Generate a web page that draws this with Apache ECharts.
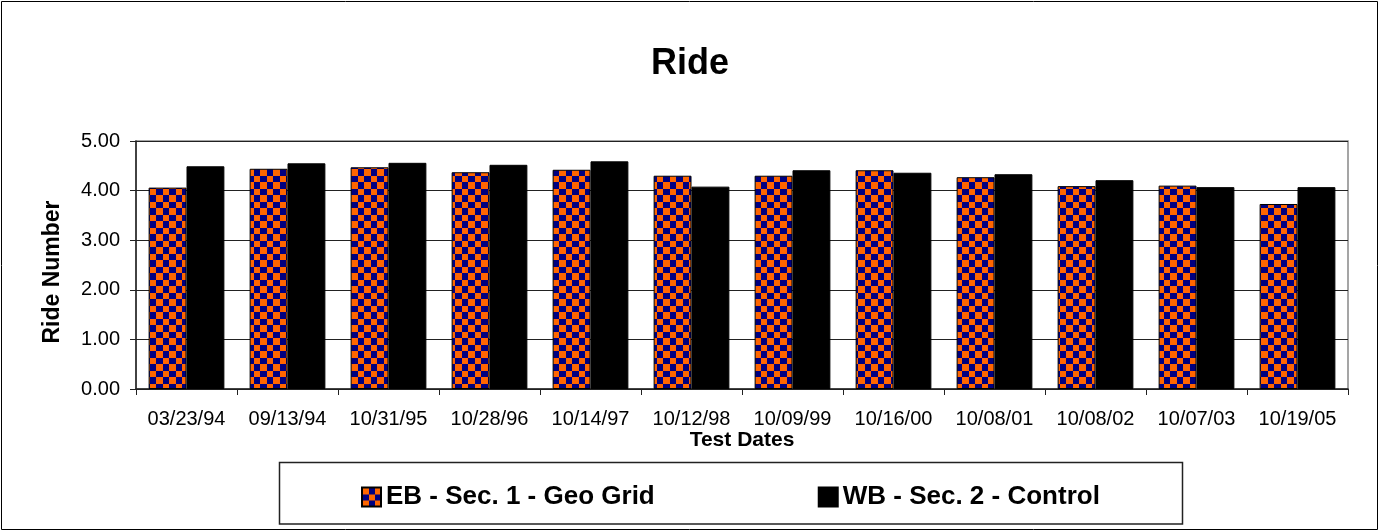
<!DOCTYPE html>
<html>
<head>
<meta charset="utf-8">
<script src="https://cdn.jsdelivr.net/npm/echarts@6/dist/echarts.min.js"></script>
<style>
html,body{margin:0;padding:0;background:#fff;}
#chart{width:1380px;height:531px;}
</style>
</head>
<body>
<div id="chart"></div>
<script>
const categories = ['03/23/94','09/13/94','10/31/95','10/28/96','10/14/97','10/12/98','10/09/99','10/16/00','10/08/01','10/08/02','10/07/03','10/19/05'];
const ebValues = [4.06,4.44,4.47,4.37,4.42,4.30,4.30,4.41,4.27,4.09,4.10,3.73];
const wbValues = [4.49,4.55,4.56,4.52,4.59,4.08,4.41,4.36,4.33,4.21,4.07,4.07];
const seriesNames = ['EB - Sec. 1 - Geo Grid','WB - Sec. 2 - Control'];
const yTicks = [0,1,2,3,4,5];

const FONT = "'Liberation Sans', Arial, sans-serif";

function checker() {
  const c = document.createElement('canvas');
  c.width = 13; c.height = 13;
  const g = c.getContext('2d');
  g.fillStyle = '#000080';
  g.fillRect(0,0,13,13);
  g.fillStyle = '#FF6600';
  g.fillRect(0,0,7,7);
  g.fillRect(7,7,6,6);
  return c;
}
const pattern = {image: checker(), repeat: 'repeat'};

const chart = echarts.init(document.getElementById('chart'), null, {renderer:'canvas'});
chart.setOption({
  backgroundColor: '#fff',
  animation: false,
  title: {
    text: 'Ride',
    left: 'center',
    top: 46,
    padding: 0,
    textStyle: {fontFamily: FONT, fontSize: 36, fontWeight: 'bold', color: '#000'}
  },
  grid: {
    left: 136, top: 141, width: 1212, height: 248,
    show: true, borderColor: '#888', borderWidth: 1.5, backgroundColor: 'transparent'
  },
  legend: {
    left: 361, top: 484, padding: 0,
    itemWidth: 19, itemHeight: 19, itemGap: 163,
    icon: 'rect',
    textStyle: {fontFamily: FONT, fontSize: 26, fontWeight: 'bold', color: '#000'},
    data: seriesNames
  },
  xAxis: {
    type: 'category',
    data: categories,
    name: 'Test Dates',
    nameLocation: 'middle',
    nameGap: 32,
    nameTextStyle: {fontFamily: FONT, fontSize: 21, fontWeight: 'bold', color: '#000'},
    axisLine: {lineStyle: {color: '#222', width: 1.5}},
    axisTick: {show: true, length: 6, lineStyle: {color: '#222'}},
    axisLabel: {fontFamily: FONT, fontSize: 20, color: '#000', margin: 20, interval: 0}
  },
  yAxis: {
    type: 'value',
    min: 0, max: 5, interval: 1,
    name: 'Ride Number',
    nameLocation: 'middle',
    nameRotate: 90,
    nameGap: 72,
    nameTextStyle: {fontFamily: FONT, fontSize: 23, fontWeight: 'bold', color: '#000', padding: [0,14,0,0]},
    axisLine: {show: true, lineStyle: {color: '#222', width: 1.5}},
    axisTick: {show: true, length: 6, lineStyle: {color: '#222'}},
    axisLabel: {fontFamily: FONT, fontSize: 20, color: '#000', margin: 16,
      formatter: v => yTicks.includes(v) ? v.toFixed(2) : ''},
    splitLine: {show: true, lineStyle: {color: '#222', width: 1}}
  },
  series: [
    {
      name: seriesNames[0], type: 'bar', data: ebValues,
      barGap: '0%', barCategoryGap: '25%',
      itemStyle: {color: pattern, borderColor: '#000', borderWidth: 1}
    },
    {
      name: seriesNames[1], type: 'bar', data: wbValues,
      barGap: '0%', barCategoryGap: '25%',
      itemStyle: {color: '#000', borderColor: '#000', borderWidth: 1}
    }
  ],
  graphic: [
    {type: 'rect', z: -1, shape: {x: 1.5, y: 1.5, width: 1376, height: 528},
     style: {fill: 'none', stroke: '#000', lineWidth: 1}},
    {type: 'rect', z: -1, shape: {x: 279.5, y: 462.5, width: 903, height: 61.5},
     style: {fill: 'none', stroke: '#222', lineWidth: 1.5}}
  ]
});
</script>
</body>
</html>
